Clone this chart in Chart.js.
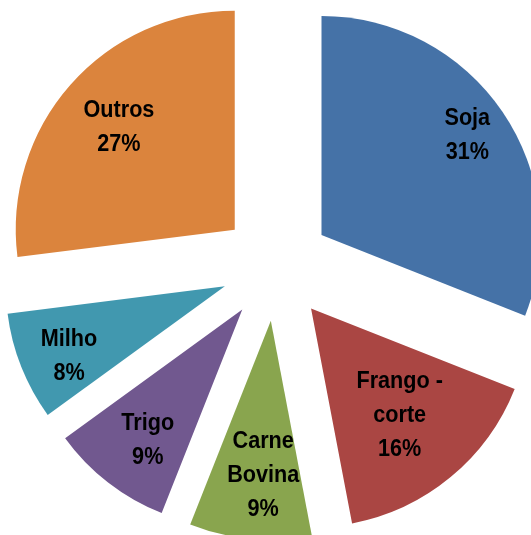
<!DOCTYPE html>
<html>
<head>
<meta charset="utf-8">
<script src="https://cdn.jsdelivr.net/npm/chart.js@4"></script>
<style>
  html, body { margin: 0; padding: 0; background: #fff; overflow: hidden; }
</style>
</head>
<body>
<canvas id="pieChart" width="531" height="535"></canvas>
<script>
// data
const categories = ['Soja', 'Frango - corte', 'Carne Bovina', 'Trigo', 'Milho', 'Outros'];
const shares = [31, 16, 9, 9, 8, 27];
// label lines as shown on the slices
const labelLines = [['Soja'], ['Frango -', 'corte'], ['Carne', 'Bovina'], ['Trigo'], ['Milho'], ['Outros']];

const colors = ['#4572A7', '#AA4643', '#89A54E', '#71588F', '#4198AF', '#DB843D'];
// label placement: distance from slice tip (fraction of radius) and angle inside the slice (0..1)
const labelRadius = [0.805, 0.635, 0.71, 0.74, 0.78, 0.705];
const labelAngle = [0.5, 0.5, 0.42, 0.435, 0.41, 0.5];
const EXPLODE = 55;

// chart.js offset also grows small slices, so push every slice out by hand instead
const explodedPie = {
    id: 'explodedPie',
    beforeDatasetsDraw(chart) {
        const ctx = chart.ctx;
        const meta = chart.getDatasetMeta(0);
        meta.data.forEach(arc => {
            const mid = (arc.startAngle + arc.endAngle) / 2;
            ctx.save();
            ctx.translate(Math.cos(mid) * EXPLODE, Math.sin(mid) * EXPLODE);
            arc.draw(ctx, chart.chartArea);
            ctx.restore();
        });

        ctx.save();
        ctx.font = 'bold 23px "Liberation Sans", Arial, sans-serif';
        ctx.fillStyle = '#000';
        ctx.textAlign = 'center';
        ctx.textBaseline = 'middle';
        meta.data.forEach((arc, i) => {
            const mid = (arc.startAngle + arc.endAngle) / 2;
            const a = arc.startAngle + (arc.endAngle - arc.startAngle) * labelAngle[i];
            const r = arc.outerRadius * labelRadius[i];
            const cx = arc.x + Math.cos(mid) * EXPLODE + Math.cos(a) * r;
            const cy = arc.y + Math.sin(mid) * EXPLODE + Math.sin(a) * r;
            const lines = labelLines[i].concat([shares[i] + '%']);
            const lh = 34;
            lines.forEach((t, j) => {
                ctx.save();
                ctx.translate(cx, cy + (j - (lines.length - 1) / 2) * lh);
                ctx.scale(0.94, 1);
                ctx.fillText(t, 0, 0);
                ctx.restore();
            });
        });
        ctx.restore();
        return false;
    }
};

new Chart(document.getElementById('pieChart').getContext('2d'), {
    type: 'pie',
    data: {
        labels: categories,
        datasets: [{
            data: shares,
            backgroundColor: colors,
            borderWidth: 0,
            hoverOffset: 0
        }]
    },
    options: {
        responsive: false,
        animation: false,
        events: [],
        radius: 219,
        layout: { padding: { left: 21, right: 0, top: 0, bottom: 3 } },
        plugins: {
            legend: { display: false },
            tooltip: { enabled: false }
        }
    },
    plugins: [explodedPie]
});
</script>
</body>
</html>
